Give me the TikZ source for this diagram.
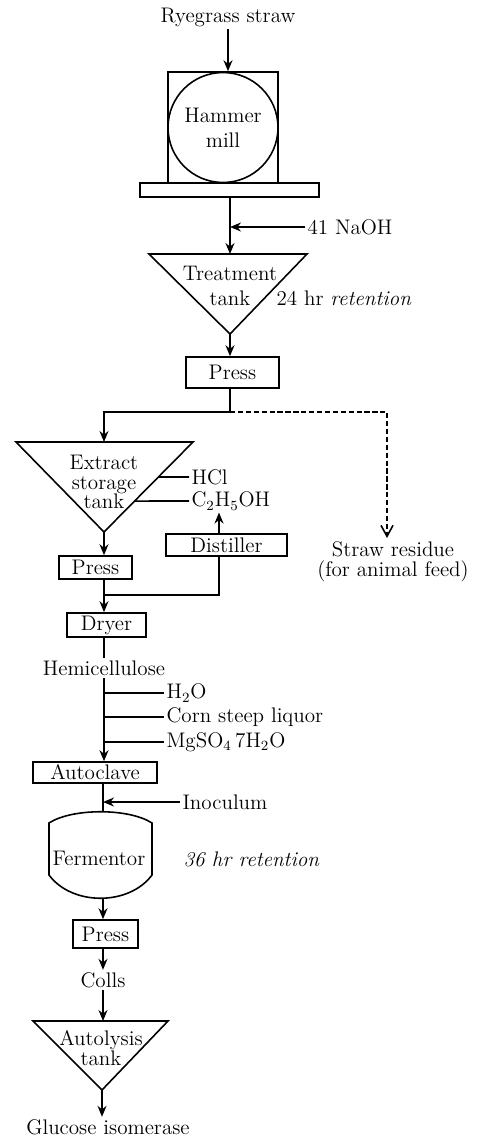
\documentclass[tikz,border=0pt]{standalone}
\usepackage{tikz}
\usetikzlibrary{positioning,arrows.meta,calc}
\tikzset{
>={Stealth[width=1.8mm,length=2.2mm]},
flow/.style={line width=0.9pt},
unit/.style={rectangle, draw=black, line width=0.9pt, inner sep=0pt, font=\large},
txt/.style={font=\large, inner sep=1pt, align=center},
tight/.style={font=\fontsize{12}{11.3}\selectfont, inner sep=1pt, align=center},
}

\begin{document}
\begin{tikzpicture}[x=0.02cm, y=-0.02cm, flow]
    \useasboundingbox (0,0) rectangle (477,1137);

    % hammer mill
    \node[txt] (RYE) at (228,17) {Ryegrass straw};
    \node[unit, minimum width=2.2cm, minimum height=2.22cm] (MILL) at (223,127.5) {};
    \node[circle, draw=black, line width=0.9pt, minimum size=2.2cm, inner sep=0pt, txt] (HAMMER) at (223,127.5) {Hammer\\mill};
    \node[unit, minimum width=3.58cm, minimum height=0.28cm] (PLATE) at (229.5,190) {};

    % treatment tank
    \coordinate (TT_L) at (149,254);
    \coordinate (TT_R) at (307,254);
    \coordinate (TT_B) at (230,334);
    \draw (TT_L) -- (TT_R) -- (TT_B) -- cycle;
    \node[txt] (TREAT) at (230,286) {Treatment\\tank};
    \node[txt, anchor=west] (NAOH) at (305,227) {41 NaOH};
    \node[txt, anchor=west] (RET_1) at (274,298) {24 hr \textit{retention}};

    \node[unit, minimum width=1.86cm, minimum height=0.62cm] (PRESS_1) at (232.5,372.5) {Press};
    \coordinate (SPLIT) at (230,412);

    % extract storage tank
    \coordinate (ET_L) at (16,442);
    \coordinate (ET_R) at (193,442);
    \coordinate (ET_B) at (104,532);
    \draw (ET_L) -- (ET_R) -- (ET_B) -- cycle;
    \node[tight] (EXTRACT) at (104,482) {Extract\\storage\\tank};
    \node[txt, anchor=west] (HCL) at (189,477) {HCl};
    \node[txt, anchor=west] (ETOH) at (189,501) {C$_2$H$_5$OH};
    \node[tight] (RESIDUE) at (393,562) {Straw residue\\(for animal feed)};

    \node[unit, minimum width=2.42cm, minimum height=0.44cm] (DIST) at (226.5,545) {Distiller};
    \node[unit, minimum width=1.46cm, minimum height=0.46cm] (PRESS_2) at (95.5,567.5) {Press};
    \coordinate (JOIN) at (104,595);
    \node[unit, minimum width=1.58cm, minimum height=0.48cm] (DRYER) at (106.5,625) {Dryer};

    % nutrients
    \node[txt] (HEMI) at (104,668) {Hemicellulose};
    \node[txt, anchor=west] (H2O) at (164,693) {H$_2$O};
    \node[txt, anchor=west] (CORN) at (164,717) {Corn steep liquor};
    \node[txt, anchor=west] (MGSO) at (164,742) {MgSO$_4$\,7H$_2$O};
    \node[unit, minimum width=2.48cm, minimum height=0.42cm] (AUTOCLAVE) at (95,772.5) {Autoclave};
    \node[txt, anchor=west] (INOC) at (180,802) {Inoculum};

    % fermentor
    \coordinate (F_TL) at (49,823);
    \coordinate (F_TR) at (152,823);
    \coordinate (F_BR) at (152,875);
    \coordinate (F_BL) at (49,875);
    \coordinate (F_TOP) at (103,812);
    \coordinate (F_BOT) at (103,898);
    \draw (F_TL) .. controls (72,808) and (129,808) .. (F_TR) -- (F_BR)
          .. controls (129,906) and (72,906) .. (F_BL) -- cycle;
    \node[txt] (FERM) at (99,858) {Fermentor};
    \node[txt, anchor=west] (RET_2) at (181,859) {\textit{36 hr retention}};

    \node[unit, minimum width=1.3cm, minimum height=0.56cm] (PRESS_3) at (105.5,934) {Press};
    \node[txt] (COLLS) at (103,980) {Colls};

    % autolysis tank
    \coordinate (AT_L) at (33,1021);
    \coordinate (AT_R) at (168,1021);
    \coordinate (AT_B) at (102,1090);
    \draw (AT_L) -- (AT_R) -- (AT_B) -- cycle;
    \node[tight] (AUTOLYSIS) at (101,1048) {Autolysis\\tank};
    \node[txt] (GLUC) at (108,1127) {Glucose isomerase};

    % streams
    \draw[->] (RYE.south) -- (RYE.south |- MILL.north);
    \draw[->] (PLATE.south -| TT_B) -- (TT_B |- TT_L);
    \draw[->] (NAOH.west) -- (NAOH.west -| TT_B);
    \draw[->] (TT_B) -- (TT_B |- PRESS_1.north);
    \draw (SPLIT |- PRESS_1.south) -- (SPLIT);
    \draw[->] (SPLIT) -| (ET_B |- ET_L);
    \draw[-{Straight Barb[width=2.4mm,length=2.2mm]}, dash pattern=on 3pt off 1.5pt] (SPLIT) -| (387,538);

    \draw ($(ET_R)!0.389!(ET_B)$) -- (HCL.west);
    \draw ($(ET_R)!0.656!(ET_B)$) -- (ETOH.west);
    \draw[->] ([xshift=-0.15cm]DIST.north) -- ([xshift=-0.15cm]DIST.north |- ETOH.south);
    \draw[->] (ET_B) -- (ET_B |- PRESS_2.north);
    \draw ([xshift=-0.15cm]DIST.south) |- (JOIN);
    \draw[->] (PRESS_2.south -| JOIN) -- (DRYER.north -| JOIN);
    \draw (DRYER.south -| HEMI.south) -- (HEMI.north);

    \draw[->] (HEMI.south) -- (HEMI.south |- AUTOCLAVE.north);
    \draw (H2O.west) -- (H2O.west -| HEMI.south);
    \draw (CORN.west) -- (CORN.west -| HEMI.south);
    \draw (MGSO.west) -- (MGSO.west -| HEMI.south);

    \draw (AUTOCLAVE.south -| F_TOP) -- (F_TOP);
    \draw[->] (INOC.west) -- (INOC.west -| F_TOP);
    \draw[->] (F_BOT) -- (F_BOT |- PRESS_3.north);
    \draw[->] (PRESS_3.south -| F_BOT) -- (COLLS.north -| F_BOT);
    \draw[->] (COLLS.south -| F_BOT) -- (F_BOT |- AT_L);
    \draw[->] (AT_B) -- (AT_B |- GLUC.north);
\end{tikzpicture}
\end{document}
